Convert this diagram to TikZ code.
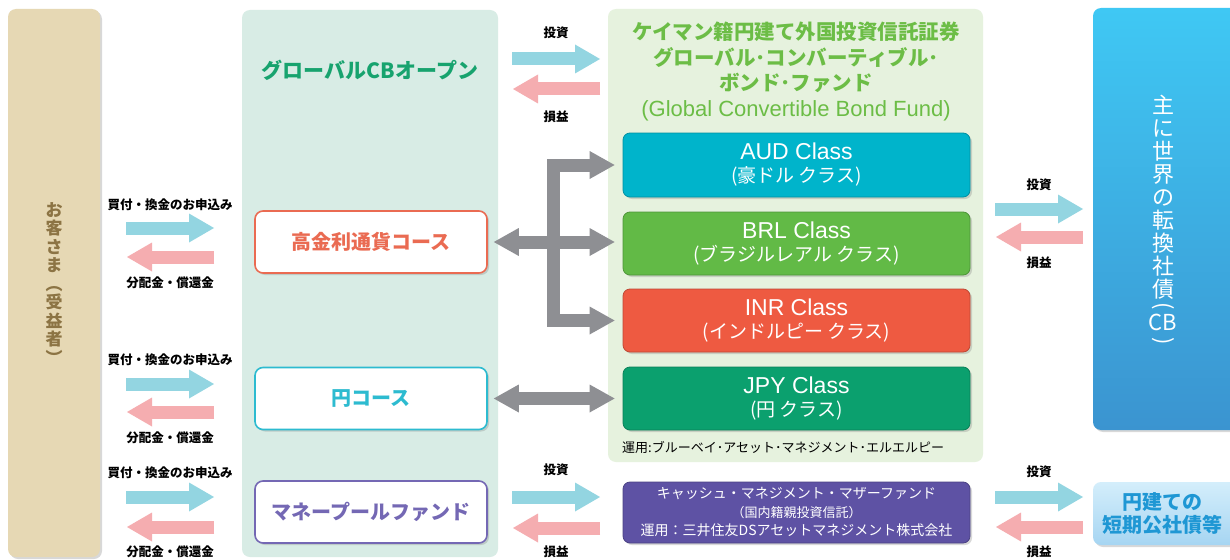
\documentclass[tikz,border=0pt]{standalone}
\usepackage{fontspec}
\setmainfont{Noto Sans CJK JP}
\newfontfamily\latf{Liberation Sans}
\usetikzlibrary{arrows.meta,shadows,calc}
\definecolor{custfill}{HTML}{E6D8B4}
\definecolor{custtext}{HTML}{8C7444}
\definecolor{gcbofill}{HTML}{D8ECE5}
\definecolor{gcbotext}{HTML}{17A36E}
\definecolor{gcbffill}{HTML}{E6F2DE}
\definecolor{gcbftext}{HTML}{6CBD46}
\definecolor{audc}{HTML}{00B4CB}
\definecolor{brlc}{HTML}{62BA46}
\definecolor{inrc}{HTML}{EE5A41}
\definecolor{jpyc}{HTML}{0BA06E}
\definecolor{cashc}{HTML}{5E52A4}
\definecolor{hcc}{HTML}{EA6B52}
\definecolor{yenc}{HTML}{2DBBD0}
\definecolor{mpc}{HTML}{7468B4}
\definecolor{cbtop}{HTML}{3FC8F4}
\definecolor{cbbot}{HTML}{3B94D0}
\definecolor{ybtop}{HTML}{D4EEFB}
\definecolor{ybbot}{HTML}{A6D5F2}
\definecolor{ybtext}{HTML}{1F97D4}
\definecolor{arrblue}{HTML}{93D5E1}
\definecolor{arrpink}{HTML}{F5ADB0}
\definecolor{arrgray}{HTML}{8E8F93}
\newcommand\classtext[2]{{\latf\fontsize{23}{23}\selectfont #1}\\#2}
\newcommand\flowpair[9]{%
  \coordinate (#1-a) at (#2,#5);
  \coordinate (#1-b) at (#3,#5);
  \coordinate (#1-c) at (#3,#6);
  \coordinate (#1-d) at (#2,#6);
  \draw[inflow] (#1-a) -- (#1-b);
  \draw[outflow] (#1-c) -- ([xshift=1pt]#1-d);
  \node[flowlabel] (#1-t) at ({(#2+#3)/2},#4) {#8};
  \node[flowlabel] (#1-u) at ({(#2+#3)/2},#7) {#9};
}
\begin{document}
\begin{tikzpicture}[x=1pt,y=-1pt,
  softshadow/.style={drop shadow={opacity=0.3, shadow xshift=2pt, shadow yshift=-2pt}},
  panel/.style={rounded corners=8pt, inner sep=0pt},
  coursebox/.style={draw=#1, line width=1.6pt, fill=white, rounded corners=8pt,
    minimum width=232pt, minimum height=62pt, text=#1,
    font=\fontsize{20}{24}\selectfont\bfseries, softshadow},
  classbox/.style={fill=#1, draw=#1!80!black, line width=0.8pt, rounded corners=7pt,
    minimum width=347pt, minimum height=63pt, text=white, align=center,
    font=\fontsize{19}{23}\selectfont, softshadow},
  inflow/.style={draw=arrblue, line width=13pt,
    -{Triangle[length=25pt,width=29pt,line width=0pt]}},
  outflow/.style={draw=arrpink, line width=13pt,
    -{Triangle[length=25pt,width=29pt,line width=0pt]}},
  grayarrow/.style={draw=arrgray, line width=13pt, line join=miter,
    {Triangle[length=25pt,width=28pt,line width=0pt]}-{Triangle[length=25pt,width=28pt,line width=0pt]}},
  flowlabel/.style={font=\fontsize{12.5}{14}\selectfont\bfseries, text=black, inner sep=0pt},
]
\useasboundingbox (0,0) rectangle (1230,559);
\fill[white] (0,0) rectangle (1230,559);

% panels
\node[panel, fill=custfill, minimum width=92pt, minimum height=548pt, softshadow] (cust) at (54,283) {};
\node[panel, fill=gcbofill, minimum width=256pt, minimum height=547pt] (gcbo) at (370,283.5) {};
\node[panel, fill=gcbffill, minimum width=375pt, minimum height=453pt] (gcbf) at (795.5,235.5) {};
\node[panel, top color=cbtop, bottom color=cbbot, minimum width=147pt, minimum height=422pt, softshadow] (cb) at (1166.5,219) {};
\node[panel, top color=ybtop, bottom color=ybbot, minimum width=147pt, minimum height=63pt, softshadow,
  align=center, text=ybtext, font=\fontsize{20}{23}\selectfont\bfseries] (yb) at (1166.5,513.5) {\hspace*{-8pt}円建ての\\\hspace*{-8pt}短期公社債等};

% vertical texts
\node[align=center, anchor=north, inner sep=0pt, text=custtext, font=\fontsize{17}{18.5}\selectfont\bfseries] (custlabel) at (54,202) {お\\客\\さ\\ま\\︵\\受\\益\\者\\︶};
\node[align=center, anchor=north, inner sep=0pt, text=white, font=\fontsize{22}{23}\selectfont] (cblabel) at (1163,95) {主\\に\\世\\界\\の\\転\\換\\社\\債};
\node[align=center, anchor=north, inner sep=0pt, text=white, font=\fontsize{22}{17.5}\selectfont] (cbparen) at (1163,302)
  {\rotatebox[origin=c]{-90}{(}\\CB\\\rotatebox[origin=c]{-90}{)}};

% titles
\node[text=gcbotext, font=\fontsize{21}{24}\selectfont\bfseries] (gcbotitle) at (370,70) {グローバルCBオープン};
\node[align=center, text=gcbftext, font=\fontsize{20.5}{25.7}\selectfont\bfseries] (gcbftitle) at (796,71.5)
  {ケイマン籍円建て外国投資信託証券\\グローバル･コンバーティブル･\\ボンド･ファンド\\{\mdseries\latf\fontsize{22}{25.7}\selectfont (Global Convertible Bond Fund)}};

% course boxes
\node[coursebox=hcc] (hc) at (371,242) {高金利通貨コース};
\node[coursebox=yenc] (yc) at (371,398.5) {円コース};
\node[coursebox=mpc] (mp) at (371,512) {マネープールファンド};

% class boxes
\node[classbox=audc, minimum height=64pt] (aud) at (796.5,165) {\classtext{AUD Class}{(豪ドル クラス)}};
\node[classbox=brlc] (brl) at (796.5,243.5) {\classtext{BRL Class}{(ブラジルレアル クラス)}};
\node[classbox=inrc] (inr) at (796.5,320.5) {\classtext{INR Class}{(インドルピー クラス)}};
\node[classbox=jpyc] (jpy) at (796.5,398.5) {\classtext{JPY Class}{(円 クラス)}};
\node[anchor=west, inner sep=0pt, font=\fontsize{13}{15}\selectfont] (mgr) at (622,447) {運用:ブルーベイ･アセット･マネジメント･エルエルピー};
\node[classbox=cashc, minimum height=61pt, font=\fontsize{14}{18.5}\selectfont] (cash) at (796.5,512.5)
  {キャッシュ・マネジメント・マザーファンド\\{\fontsize{13}{18.5}\selectfont （国内籍親投資信託）}\\運用：三井住友DSアセットマネジメント株式会社};

% gray connectors
\coordinate (fork) at (553.5,242);
\draw[grayarrow] ([xshift=-8pt]aud.west) -| (fork) |- ([xshift=-8pt]inr.west);
\draw[grayarrow] ([xshift=6pt]hc.east) -- ([xshift=-8pt]hc.east -| brl.west);
\draw[grayarrow] ([xshift=6pt]yc.east) -- ([xshift=-8pt]yc.east -| jpy.west);

% flow arrows
\flowpair{la}{126}{214}{205}{228}{257}{283}{買付・換金のお申込み}{分配金・償還金}
\flowpair{lb}{126}{214}{360}{384}{412}{438}{買付・換金のお申込み}{分配金・償還金}
\flowpair{lc}{126}{214}{473}{497}{527}{552}{買付・換金のお申込み}{分配金・償還金}
\flowpair{ma}{512}{600}{33}{59}{89}{117}{投資}{損益}
\flowpair{mb}{512}{600}{470}{497}{528}{552}{投資}{損益}
\flowpair{ra}{995}{1083}{185}{209}{237}{263}{投資}{損益}
\flowpair{rb}{995}{1083}{472}{497}{527}{552}{投資}{損益}
\end{tikzpicture}
\end{document}
